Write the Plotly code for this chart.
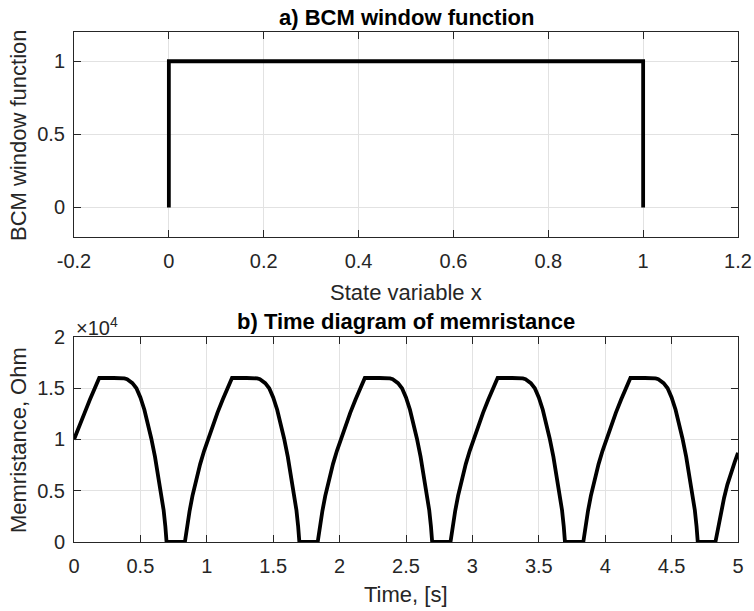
import plotly.graph_objects as go

# ---- data: panel a) BCM window function ----
state_x = [0.0, 0.0, 1.0, 1.0]
window_f = [0.0, 1.0, 1.0, 0.0]

# ---- data: panel b) memristance vs time (read from picture) ----
time_s = [
    0.000, 0.040, 0.080, 0.120, 0.155, 0.175, 0.190, 0.300, 0.335, 0.357, 0.380, 0.400,
    0.420, 0.440, 0.470, 0.500, 0.530, 0.560, 0.582, 0.610, 0.635, 0.657, 0.675, 0.688,
    0.697, 0.835,
    0.850, 0.870, 0.892, 0.920, 0.950, 0.980, 1.005, 1.040, 1.080, 1.120, 1.155, 1.175,
    1.190, 1.300, 1.335, 1.357, 1.380, 1.400, 1.420, 1.440, 1.470, 1.500, 1.530, 1.560,
    1.582, 1.610, 1.635, 1.657, 1.675, 1.688, 1.697, 1.835,
    1.850, 1.870, 1.892, 1.920, 1.950, 1.980, 2.005, 2.040, 2.080, 2.120, 2.155, 2.175,
    2.190, 2.300, 2.335, 2.357, 2.380, 2.400, 2.420, 2.440, 2.470, 2.500, 2.530, 2.560,
    2.582, 2.610, 2.635, 2.657, 2.675, 2.688, 2.697, 2.835,
    2.850, 2.870, 2.892, 2.920, 2.950, 2.980, 3.005, 3.040, 3.080, 3.120, 3.155, 3.175,
    3.190, 3.300, 3.335, 3.357, 3.380, 3.400, 3.420, 3.440, 3.470, 3.500, 3.530, 3.560,
    3.582, 3.610, 3.635, 3.657, 3.675, 3.688, 3.697, 3.835,
    3.850, 3.870, 3.892, 3.920, 3.950, 3.980, 4.005, 4.040, 4.080, 4.120, 4.155, 4.175,
    4.190, 4.300, 4.335, 4.357, 4.380, 4.400, 4.420, 4.440, 4.470, 4.500, 4.530, 4.560,
    4.582, 4.610, 4.635, 4.657, 4.675, 4.688, 4.697, 4.830,
    4.850, 4.870, 4.895, 4.920, 4.950, 4.975, 5.000,
]
memristance_ohm = [
    10000, 11200, 12600, 13900, 15000, 15600, 16000, 16000, 16000, 15990, 15960, 15880,
    15720, 15500, 15000, 14100, 12900, 11400, 10100, 8300, 6500, 4800, 3100, 1500,
    0, 0,
    1500, 3000, 4500, 6100, 7600, 8900, 9900, 11200, 12600, 13900, 15000, 15600,
    16000, 16000, 16000, 15990, 15960, 15880, 15720, 15500, 15000, 14100, 12900, 11400,
    10100, 8300, 6500, 4800, 3100, 1500, 0, 0,
    1500, 3000, 4500, 6100, 7600, 8900, 9900, 11200, 12600, 13900, 15000, 15600,
    16000, 16000, 16000, 15990, 15960, 15880, 15720, 15500, 15000, 14100, 12900, 11400,
    10100, 8300, 6500, 4800, 3100, 1500, 0, 0,
    1500, 3000, 4500, 6100, 7600, 8900, 9900, 11200, 12600, 13900, 15000, 15600,
    16000, 16000, 16000, 15990, 15960, 15880, 15720, 15500, 15000, 14100, 12900, 11400,
    10100, 8300, 6500, 4800, 3100, 1500, 0, 0,
    1500, 3000, 4500, 6100, 7600, 8900, 9900, 11200, 12600, 13900, 15000, 15600,
    16000, 16000, 16000, 15990, 15960, 15880, 15720, 15500, 15000, 14100, 12900, 11400,
    10100, 8300, 6500, 4800, 3100, 1500, 0, 0,
    1400, 2800, 4300, 5600, 6900, 7800, 8700,
]

# ---- tick labels ----
top_xticks = [-0.2, 0, 0.2, 0.4, 0.6, 0.8, 1, 1.2]
top_xlabels = ["-0.2", "0", "0.2", "0.4", "0.6", "0.8", "1", "1.2"]
top_yticks = [0, 0.5, 1]
top_ylabels = ["0", "0.5", "1"]
bot_xticks = [0, 0.5, 1, 1.5, 2, 2.5, 3, 3.5, 4, 4.5, 5]
bot_xlabels = ["0", "0.5", "1", "1.5", "2", "2.5", "3", "3.5", "4", "4.5", "5"]
bot_yticks = [0, 5000, 10000, 15000, 20000]
bot_ylabels = ["0", "0.5", "1", "1.5", "2"]

FONT = "Liberation Sans, Arial, sans-serif"
AX = "#262626"
GRID = "#e2e2e2"

fig = go.Figure()
fig.add_trace(go.Scatter(x=state_x, y=window_f, mode="lines",
                         line=dict(color="black", width=3.8), xaxis="x", yaxis="y",
                         showlegend=False))
fig.add_trace(go.Scatter(x=time_s, y=memristance_ohm, mode="lines",
                         line=dict(color="black", width=3.8),
                         xaxis="x2", yaxis="y2", showlegend=False))

common = dict(showline=True, linecolor=AX, linewidth=1, mirror="ticks",
              ticks="inside", ticklen=7, tickcolor=AX, tickwidth=1,
              showgrid=True, gridcolor=GRID, gridwidth=1, zeroline=False,
              automargin=False,
              tickfont=dict(family=FONT, size=20, color=AX))

fig.update_layout(
    width=754, height=611,
    margin=dict(l=74, r=16, t=32, b=69),
    paper_bgcolor="white", plot_bgcolor="white",
    xaxis=dict(domain=[0, 1], anchor="y", range=[-0.2, 1.2],
               tickvals=top_xticks, ticktext=top_xlabels, ticklabelstandoff=6, **common),
    yaxis=dict(domain=[0.5986, 1.0], anchor="x", range=[-0.2, 1.2],
               tickvals=top_yticks, ticktext=top_ylabels, ticklabelstandoff=4, **common),
    xaxis2=dict(domain=[0, 1], anchor="y2", range=[0, 5],
                tickvals=bot_xticks, ticktext=bot_xlabels, ticklabelstandoff=6, **common),
    yaxis2=dict(domain=[0, 0.402], anchor="x2", range=[0, 20000],
                tickvals=bot_yticks, ticktext=bot_ylabels, ticklabelstandoff=4, **common),
)

def ann(text, x, y, size=22, bold=False, angle=0, xanchor="center", color=AX):
    fig.add_annotation(text=f"<b>{text}</b>" if bold else text, x=x, y=y,
                       xref="paper", yref="paper", showarrow=False,
                       xanchor=xanchor, yanchor="middle", textangle=angle,
                       font=dict(family=FONT, size=size, color=color))

ann("a) BCM window function", 0.5, 1.0294, bold=True, color="black")
ann("b) Time diagram of memristance", 0.5, 0.4314, bold=True, color="black")
ann("State variable x", 0.5, 0.490)
ann("Time, [s]", 0.5, -0.102)
ann("BCM window function", -0.0843, 0.798, angle=-90)
ann("Memristance, Ohm", -0.0843, 0.20, angle=-90)
ann("×10<sup>4</sup>", 0.0, 0.4216, size=20, xanchor="left")

fig.write_html("out.html")
